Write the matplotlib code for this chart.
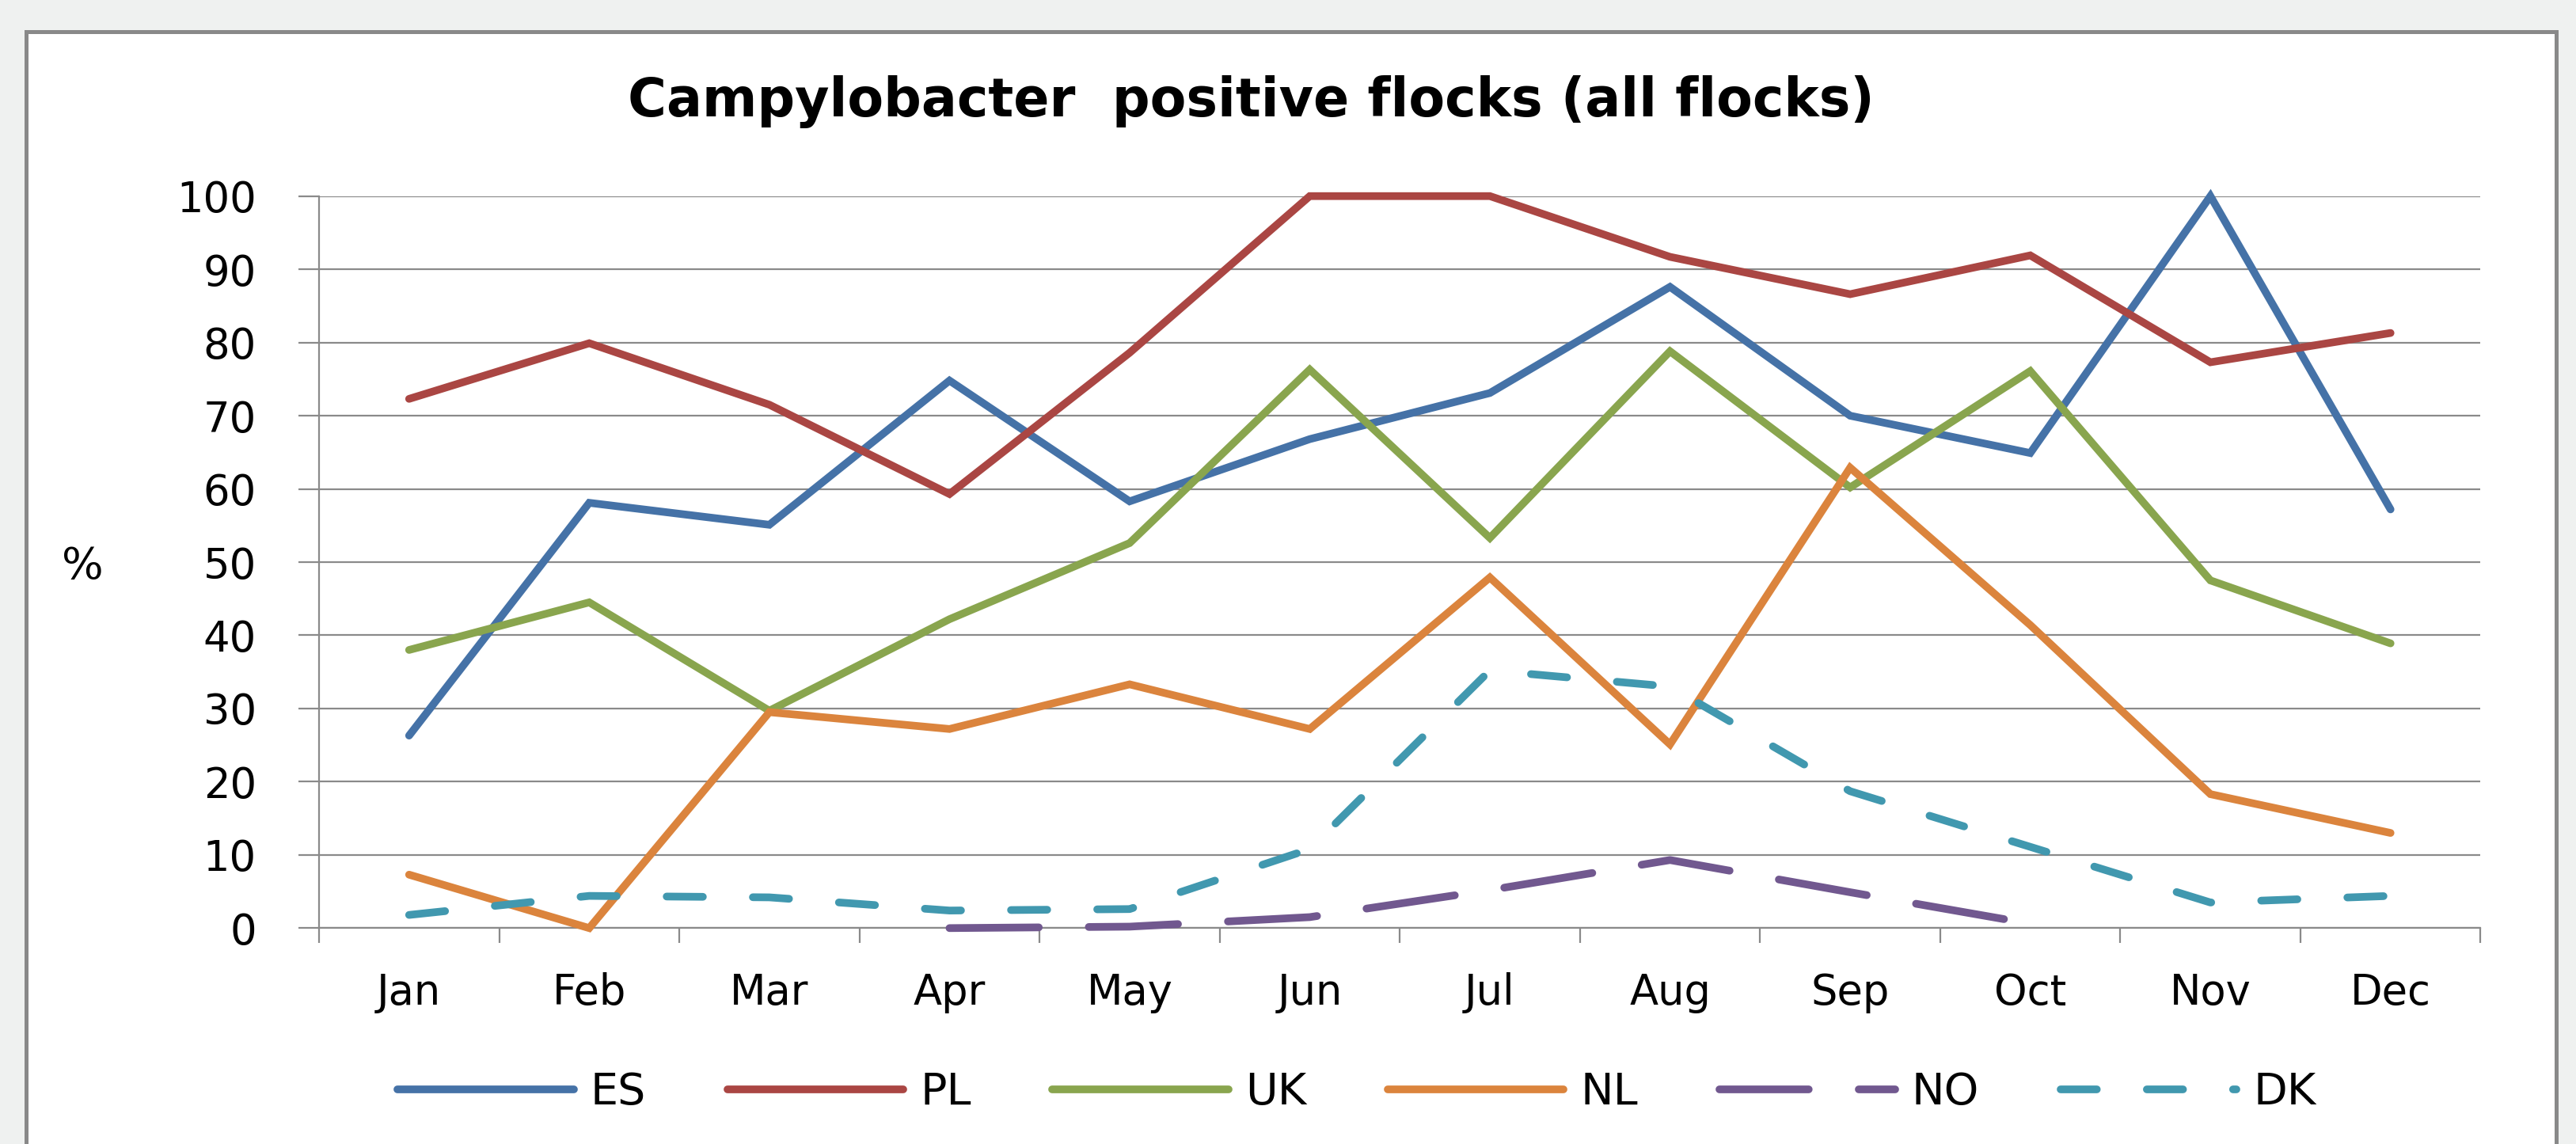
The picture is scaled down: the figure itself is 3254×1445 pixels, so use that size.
import matplotlib
matplotlib.use("Agg")
import matplotlib.pyplot as plt
import numpy as np
from matplotlib.patches import Rectangle

months = ["Jan", "Feb", "Mar", "Apr", "May", "Jun", "Jul", "Aug", "Sep", "Oct", "Nov", "Dec"]
es = [26.3, 58.1, 55.1, 74.8, 58.3, 66.8, 73.1, 87.6, 70.0, 64.9, 100.0, 57.2]
pl = [72.3, 79.9, 71.5, 59.3, 78.6, 100.0, 100.0, 91.7, 86.6, 91.9, 77.3, 81.3]
uk = [38.0, 44.5, 29.7, 42.2, 52.6, 76.3, 53.3, 78.8, 60.2, 76.1, 47.5, 38.9]
nl = [7.3, 0.0, 29.5, 27.2, 33.3, 27.2, 47.9, 25.1, 62.9, 41.4, 18.3, 13.0]
no = [np.nan, np.nan, np.nan, 0.0, 0.2, 1.5, 5.2, 9.3, 4.9, 0.6, np.nan, np.nan]
dk = [1.8, 4.4, 4.2, 2.4, 2.6, 10.8, 35.2, 33.0, 18.7, 11.1, 3.5, 4.4]
series_names = ["ES", "PL", "UK", "NL", "NO", "DK"]
title = "Campylobacter  positive flocks (all flocks)"
yticks = [0, 10, 20, 30, 40, 50, 60, 70, 80, 90, 100]

W, H = 3255, 1445
fig = plt.figure(figsize=(W / 100, H / 100), dpi=100)
fig.patch.set_facecolor("#EFF1F0")

# white chart box with grey border
box = Rectangle((33 / W, -0.05), (3229 - 33) / W, (1445 - 40) / H + 0.05,
                transform=fig.transFigure, facecolor="white",
                edgecolor="#898989", linewidth=3.6, zorder=-10)
fig.patches.append(box)

ax = fig.add_axes([403 / W, 1 - 1172.3 / H, (3133.5 - 403) / W, (1172.3 - 247.7) / H])
ax.set_zorder(5)
ax.patch.set_alpha(0)
x = np.arange(len(months))

colors = {"ES": "#4572A7", "PL": "#AA4643", "UK": "#89A54E",
          "NL": "#DB843D", "NO": "#71588F", "DK": "#4198AF"}
data = {"ES": es, "PL": pl, "UK": uk, "NL": nl, "NO": no, "DK": dk}
lw = 7
for name in series_names:
    kw = dict(color=colors[name], lw=lw, label=name, solid_capstyle="round",
              solid_joinstyle="miter", clip_on=False, zorder=3)
    if name == "NO":
        kw.update(linestyle=(0, (11.6, 6.5)), dash_capstyle="round")
    elif name == "DK":
        kw.update(linestyle=(0, (4.7, 6.5)), dash_capstyle="round")
    ax.plot(x, data[name], **kw)

ax.set_xlim(-0.5, 11.5)
ax.set_ylim(0, 100)
ax.set_yticks(yticks)
ax.set_yticklabels([str(v) for v in yticks])
ax.yaxis.grid(True, color="#8A8A8A", linewidth=1.6)
ax.set_axisbelow(True)
for s in ["top", "right"]:
    ax.spines[s].set_visible(False)
for s in ["left", "bottom"]:
    ax.spines[s].set_color("#8A8A8A")
    ax.spines[s].set_linewidth(1.6)

ax.set_xticks(np.arange(-0.5, 12.0, 1.0))
ax.set_xticklabels([])
ax.set_xticks(x, minor=True)
ax.set_xticklabels(months, minor=True)
ax.tick_params(axis="x", which="major", length=14, width=1.6, color="#8A8A8A", direction="out")
ax.tick_params(axis="x", which="minor", length=0, pad=40, labelsize=38)
ax.tick_params(axis="y", length=19, width=1.6, color="#8A8A8A", pad=38, labelsize=38)

fig.text(1580 / W, 1 - 129 / H, title, ha="center", va="center",
         fontsize=48, fontweight="bold")
fig.text(104 / W, 1 - 716 / H, "%", ha="center", va="center", fontsize=40)

leg = fig.legend(loc="center", bbox_to_anchor=(1714 / W, 1 - 1380 / H), ncol=6,
                 frameon=False, fontsize=40, handlelength=4.0, handletextpad=0.38,
                 columnspacing=1.85)

fig.savefig("out.png", dpi=100, facecolor=fig.get_facecolor())
